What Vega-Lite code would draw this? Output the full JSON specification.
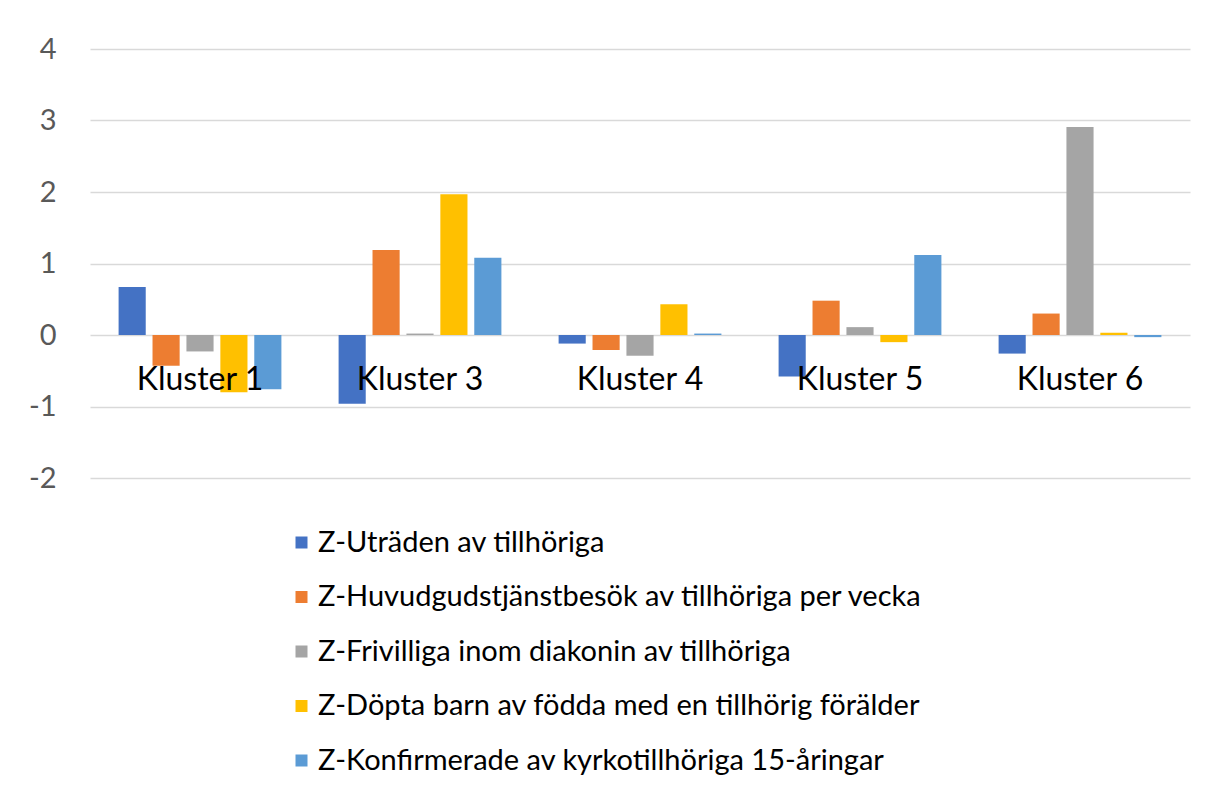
{
  "$schema": "https://vega.github.io/schema/vega-lite/v6.json",
  "width": 1100,
  "height": 429,
  "autosize": {"type": "none"},
  "padding": {"left": 90, "top": 49, "right": 18, "bottom": 315},
  "background": "white",
  "config": {"view": {"stroke": null}, "font": "Lato"},
  "data": {
    "values": [
      {"cluster": "Kluster 1", "series": "Z-Uträden av tillhöriga", "value": 0.67},
      {"cluster": "Kluster 1", "series": "Z-Huvudgudstjänstbesök av tillhöriga per vecka", "value": -0.43},
      {"cluster": "Kluster 1", "series": "Z-Frivilliga inom diakonin av tillhöriga", "value": -0.23},
      {"cluster": "Kluster 1", "series": "Z-Döpta barn av födda med en tillhörig förälder", "value": -0.80},
      {"cluster": "Kluster 1", "series": "Z-Konfirmerade av kyrkotillhöriga 15-åringar", "value": -0.76},
      {"cluster": "Kluster 3", "series": "Z-Uträden av tillhöriga", "value": -0.96},
      {"cluster": "Kluster 3", "series": "Z-Huvudgudstjänstbesök av tillhöriga per vecka", "value": 1.19},
      {"cluster": "Kluster 3", "series": "Z-Frivilliga inom diakonin av tillhöriga", "value": 0.02},
      {"cluster": "Kluster 3", "series": "Z-Döpta barn av födda med en tillhörig förälder", "value": 1.97},
      {"cluster": "Kluster 3", "series": "Z-Konfirmerade av kyrkotillhöriga 15-åringar", "value": 1.08},
      {"cluster": "Kluster 4", "series": "Z-Uträden av tillhöriga", "value": -0.12},
      {"cluster": "Kluster 4", "series": "Z-Huvudgudstjänstbesök av tillhöriga per vecka", "value": -0.21},
      {"cluster": "Kluster 4", "series": "Z-Frivilliga inom diakonin av tillhöriga", "value": -0.29},
      {"cluster": "Kluster 4", "series": "Z-Döpta barn av födda med en tillhörig förälder", "value": 0.43},
      {"cluster": "Kluster 4", "series": "Z-Konfirmerade av kyrkotillhöriga 15-åringar", "value": 0.02},
      {"cluster": "Kluster 5", "series": "Z-Uträden av tillhöriga", "value": -0.58},
      {"cluster": "Kluster 5", "series": "Z-Huvudgudstjänstbesök av tillhöriga per vecka", "value": 0.48},
      {"cluster": "Kluster 5", "series": "Z-Frivilliga inom diakonin av tillhöriga", "value": 0.11},
      {"cluster": "Kluster 5", "series": "Z-Döpta barn av födda med en tillhörig förälder", "value": -0.10},
      {"cluster": "Kluster 5", "series": "Z-Konfirmerade av kyrkotillhöriga 15-åringar", "value": 1.12},
      {"cluster": "Kluster 6", "series": "Z-Uträden av tillhöriga", "value": -0.26},
      {"cluster": "Kluster 6", "series": "Z-Huvudgudstjänstbesök av tillhöriga per vecka", "value": 0.30},
      {"cluster": "Kluster 6", "series": "Z-Frivilliga inom diakonin av tillhöriga", "value": 2.91},
      {"cluster": "Kluster 6", "series": "Z-Döpta barn av födda med en tillhörig förälder", "value": 0.03},
      {"cluster": "Kluster 6", "series": "Z-Konfirmerade av kyrkotillhöriga 15-åringar", "value": -0.03}
    ]
  },
  "mark": {"type": "bar"},
  "encoding": {
    "x": {
      "field": "cluster",
      "type": "nominal",
      "sort": null,
      "scale": {"paddingInner": 0.26, "paddingOuter": 0.13},
      "axis": {
        "title": null,
        "labelAngle": 0,
        "orient": "bottom",
        "offset": -143,
        "domain": false,
        "ticks": false,
        "labelPadding": 29,
        "labelFontSize": 32,
        "labelColor": "#000000",
        "labelFont": "Lato",
        "zindex": 2
      }
    },
    "xOffset": {
      "field": "series",
      "type": "nominal",
      "sort": null,
      "scale": {"paddingInner": 0.2}
    },
    "y": {
      "field": "value",
      "type": "quantitative",
      "scale": {"domain": [-2, 4], "nice": false, "zero": false},
      "axis": {
        "title": null,
        "values": [-2, -1, 0, 1, 2, 3, 4],
        "labelExpr": "'' + datum.value",
        "domain": false,
        "ticks": false,
        "labelPadding": 34,
        "labelFontSize": 29,
        "labelColor": "#595959",
        "gridColor": "#d9d9d9",
        "gridWidth": 1.5,
        "zindex": 0
      }
    },
    "color": {
      "field": "series",
      "type": "nominal",
      "sort": null,
      "scale": {
        "domain": [
          "Z-Uträden av tillhöriga",
          "Z-Huvudgudstjänstbesök av tillhöriga per vecka",
          "Z-Frivilliga inom diakonin av tillhöriga",
          "Z-Döpta barn av födda med en tillhörig förälder",
          "Z-Konfirmerade av kyrkotillhöriga 15-åringar"
        ],
        "range": ["#4472C4", "#ED7D31", "#A5A5A5", "#FFC000", "#5B9BD5"]
      },
      "legend": {
        "title": null,
        "orient": "none",
        "legendX": 197,
        "legendY": 479,
        "direction": "vertical",
        "symbolType": "square",
        "symbolSize": 144,
        "symbolStrokeWidth": 0,
        "labelFontSize": 29,
        "labelColor": "#000000",
        "labelLimit": 900,
        "labelOffset": 2,
        "rowPadding": 24.5
      }
    }
  }
}
